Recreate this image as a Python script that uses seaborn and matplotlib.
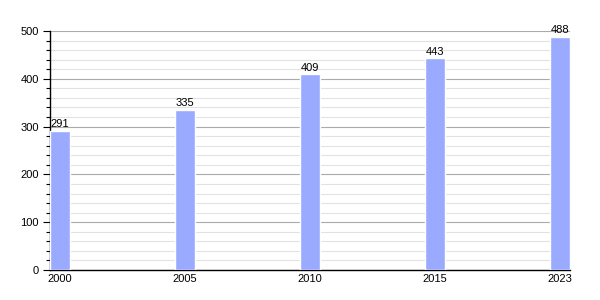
import matplotlib
matplotlib.use("Agg")
import matplotlib.pyplot as plt
import seaborn as sns
import pandas as pd
from matplotlib.ticker import MultipleLocator

years = ["2000", "2005", "2010", "2015", "2023"]
values = [291, 335, 409, 443, 488]

sns.set_theme(style="white")
plt.rcParams['font.family'] = ['Liberation Sans', 'DejaVu Sans']

df = pd.DataFrame({"year": years, "value": values})

fig = plt.figure(figsize=(6, 3), dpi=100)
ax = fig.add_axes([50/600, 30/300, 520/600, 239/300])

sns.barplot(data=df, x="year", y="value", color="#99aaff", saturation=1,
            width=0.16, ax=ax, zorder=3)

ax.set_xlim(-0.08, 4.08)
ax.set_ylim(0, 500)
ax.yaxis.set_major_locator(MultipleLocator(100))
ax.yaxis.set_minor_locator(MultipleLocator(20))
ax.grid(axis="y", which="major", color="#aaaaaa", linewidth=0.8, zorder=0)
ax.grid(axis="y", which="minor", color="#e2e2e2", linewidth=0.8, zorder=0)
ax.set_axisbelow(True)

for s in ["top", "right"]:
    ax.spines[s].set_visible(False)
for s in ["left", "bottom"]:
    ax.spines[s].set_color("black")
    ax.spines[s].set_linewidth(1)

ax.tick_params(axis="y", which="major", direction="out", length=5, width=0.8,
               colors="black", labelsize=8, left=True, pad=3)
ax.tick_params(axis="y", which="minor", direction="out", length=3, width=0.8,
               colors="black", left=True)
ax.tick_params(axis="x", length=0, labelsize=8, colors="black", pad=3)
ax.set_xlabel("")
ax.set_ylabel("")

for i, v in enumerate(values):
    ax.text(i, v + 3, str(v), ha="center", va="bottom", fontsize=8, color="black")

fig.savefig("out.png", dpi=100)
